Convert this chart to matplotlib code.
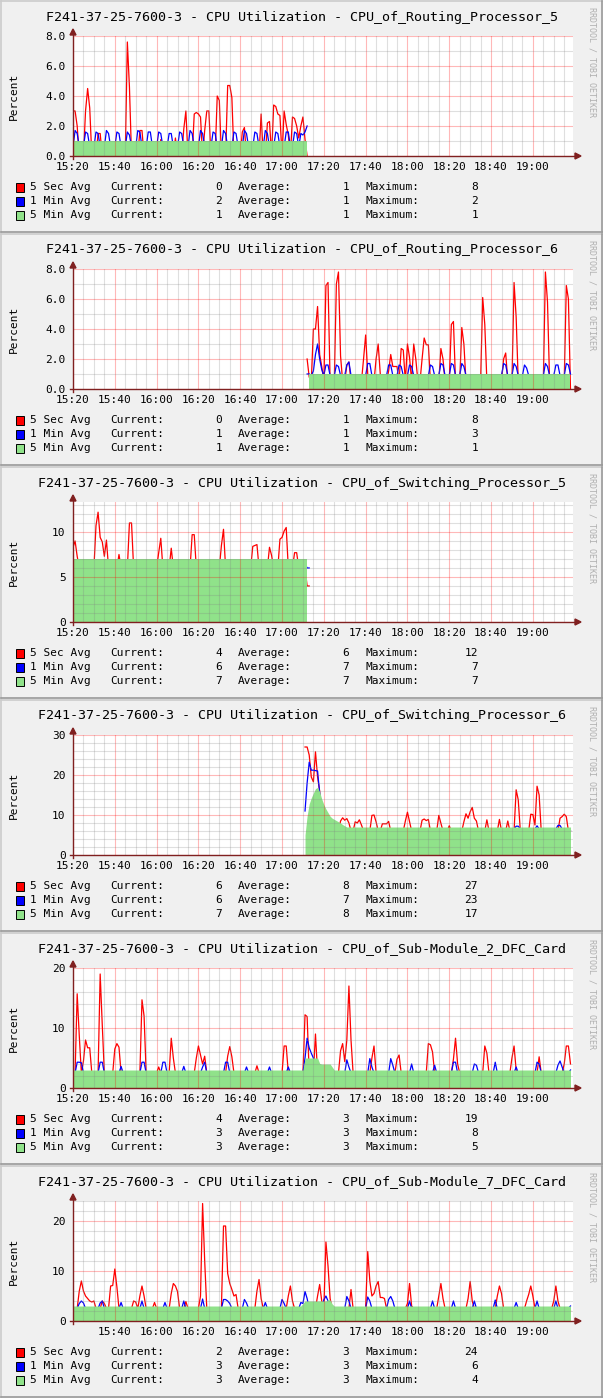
import numpy as np
import matplotlib
matplotlib.use('Agg')
import matplotlib.pyplot as plt
from matplotlib.patches import Rectangle, Polygon
from matplotlib.lines import Line2D

plt.rcParams['font.family'] = ['DejaVu Sans Mono']
plt.rcParams['font.size'] = 8

W, H = 603, 1398
PANEL_H = 233

host = 'F241-37-25-7600-3 - CPU Utilization - '
titles = ['CPU_of_Routing_Processor_5', 'CPU_of_Routing_Processor_6',
          'CPU_of_Switching_Processor_5', 'CPU_of_Switching_Processor_6',
          'CPU_of_Sub-Module_2_DFC_Card', 'CPU_of_Sub-Module_7_DFC_Card']
time_labels = ['15:20', '15:40', '16:00', '16:20', '16:40', '17:00',
               '17:20', '17:40', '18:00', '18:20', '18:40', '19:00']
series_names = ['5 Sec Avg', '1 Min Avg', '5 Min Avg']
series_colors = ['#FF0000', '#0000FF', '#90E28A']

y_max = [8.0, 8.0, 13.33, 30, 20, 24]
y_major = [2, 2, 5, 10, 10, 10]
y_minor = [1, 1, 1, 2, 2, 2]
y_fmt = ['%.1f', '%.1f', '%d', '%d', '%d', '%d']

# one sample per minute, minute 0 = 15:20
# spikes: (first minute, [values]) ; everything else sits at the base level

# --- Routing_Processor_5
rp5_line_span = (0, 112)
rp5_area_span = (0, 112)
rp5_bases = (0.0, 0.6, 1.0)
rp5_red = [(0, [3.0, 3.0, 2.0]), (6, [3.0, 4.5, 3.2]), (12, [1.5, 1.5]),
           (26, [7.6, 4.6]), (32, [1.7, 1.7]), (42, [1.1]), (49, [1.2]),
           (53, [1.8, 3.0]), (58, [2.8, 2.9, 2.8, 2.6]), (63, [1.7, 3.0, 3.0]),
           (69, [4.0, 3.7]), (74, [4.7, 4.7, 3.9]), (81, [1.6, 1.9]),
           (90, [2.8]), (93, [2.2, 2.3]), (96, [3.4, 3.3, 2.8, 2.7]),
           (101, [3.0, 2.1, 1.4]), (105, [2.6, 2.5, 2.0]), (108, [1.2]),
           (109, [2.0, 2.6]), (111, [1.1])]
rp5_blue = [(1, [1.7, 1.5]), (6, [1.6, 1.5]), (11, [1.6, 1.5]), (16, [1.7, 1.5]),
            (21, [1.6, 1.5]), (26, [1.6, 1.4]), (31, [1.7, 1.6]), (36, [1.6, 1.6]),
            (41, [1.6, 1.5]), (46, [1.5, 1.5]), (51, [1.6, 1.5]), (56, [1.7, 1.5]),
            (61, [1.7, 1.5]), (67, [1.6, 1.5]), (72, [1.7, 1.5]), (77, [1.6, 1.5]),
            (82, [1.7, 1.5]), (87, [1.6, 1.5]), (92, [1.7, 1.5]), (97, [1.6, 1.5]),
            (102, [1.6, 1.6]), (106, [1.6, 1.5]), (109, [1.5, 1.4, 1.6, 2.0])]
rp5_green = []
rp5_stats = [(0, 1, 8), (2, 1, 2), (1, 1, 1)]

# --- Routing_Processor_6
rp6_line_span = (112, 238)
rp6_area_span = (113, 238)
rp6_bases = (0.5, 0.9, 1.0)
rp6_red = [(112, [2.0, 0.8]), (115, [4.0, 4.0, 5.5, 2.3, 1.5]), (121, [6.9, 7.1]),
           (126, [7.0, 7.8, 2.2]), (131, [1.6, 1.8]), (139, [2.0, 3.6, 1.0]),
           (145, [2.0, 3.0, 1.0]), (151, [1.2, 2.3, 1.5, 1.5, 1.5]),
           (157, [2.7, 2.6]), (160, [3.0, 2.1]), (163, [3.0, 2.0]),
           (167, [2.0, 3.4, 2.95, 2.95]), (176, [2.7, 2.0]), (181, [4.3, 4.5]),
           (186, [4.1, 3.0]), (196, [6.1, 4.3]), (206, [2.0, 2.4]),
           (211, [7.1, 4.8]), (226, [7.8, 5.8]), (236, [6.9, 6.0]), (238, [0.0])]
rp6_blue = [(112, [1.0, 1.0]), (115, [1.2, 2.3, 3.0, 2.0, 1.3]), (121, [1.6, 1.6]),
            (126, [1.6, 1.5]), (131, [1.6, 1.8]), (141, [1.7, 1.7]), (151, [1.6, 1.6]),
            (156, [1.6, 1.5]), (161, [1.6, 1.5]), (171, [1.6, 1.5]), (176, [1.7, 1.6]),
            (181, [1.7, 1.6]), (186, [1.7, 1.5]), (206, [1.7, 1.6]), (211, [1.7, 1.5]),
            (216, [1.6, 1.4]), (226, [1.7, 1.5]), (231, [1.6, 1.6]), (236, [1.7, 1.6]),
            (238, [1.0])]
rp6_green = []
rp6_stats = [(0, 1, 8), (1, 1, 3), (1, 1, 1)]

# --- Switching_Processor_5
sp5_line_span = (0, 113)
sp5_area_span = (0, 112)
sp5_bases = (6.0, 6.5, 7.0)
sp5_red = [(0, [8.3, 9.0, 7.3]), (11, [10.7, 12.2, 9.4, 8.9, 7.3, 9.1]), (22, [7.5]),
           (27, [11.0, 11.0]), (41, [7.7, 9.3]), (47, [8.2]), (57, [9.7, 9.7]),
           (71, [8.5, 10.3]), (86, [8.4, 8.5, 8.6]), (94, [8.3, 7.4]),
           (99, [9.2, 9.4, 10.1, 10.5]), (106, [7.7, 7.7]), (112, [4.0, 4.0])]
sp5_blue = [(112, [6.0, 6.0])]
sp5_green = []
sp5_stats = [(4, 6, 12), (6, 7, 7), (7, 7, 7)]

# --- Switching_Processor_6
sp6_line_span = (111, 238)
sp6_area_span = (111, 238)
sp6_bases = (6.0, 6.5, 7.0)
sp6_red = [(111, [27.0, 27.0, 25.0, 19.5, 18.3, 25.8, 19.5, 16.0]),
           (128, [8.5, 9.3, 8.7, 9.1, 8.0]), (135, [8.3, 8.0, 8.8, 7.5]),
           (143, [9.9, 10.0, 8.3]), (148, [7.8, 7.8, 7.8, 8.4]), (159, [8.5, 10.7, 8.4]),
           (167, [8.7, 9.0, 8.6, 8.9]), (175, [9.9, 8.0]), (180, [7.3]),
           (187, [8.3, 10.3, 9.2, 10.8, 11.9, 9.2, 8.5]), (198, [8.8]), (204, [8.9]),
           (208, [8.5]), (212, [16.3, 13.8]), (219, [10.2, 10.1, 7.5, 17.2, 15.0]),
           (233, [9.2, 9.6, 10.2, 9.6]), (238, [6.0])]
sp6_blue = [(111, [11.0, 18.0, 23.2, 21.2, 21.2, 21.1, 21.0, 15.5, 12.0]),
            (212, [7.2, 7.2]), (222, [7.3]), (232, [7.4, 7.4]), (238, [6.0])]
sp6_green = [(111, [5.0, 9.8, 12.8, 14.3, 15.5, 16.6, 16.9, 15.8, 14.0, 12.6, 11.5,
                    10.6, 9.7, 9.2, 8.9, 8.6, 8.3, 8.0, 7.6, 7.3])]
sp6_stats = [(6, 8, 27), (6, 7, 23), (7, 8, 17)]

# --- Sub-Module_2_DFC_Card
sm2_line_span = (0, 238)
sm2_area_span = (0, 238)
sm2_bases = (2.5, 2.5, 3.0)
sm2_red = [(2, [15.7, 8.7]), (5, [4.5, 8.0, 6.7, 6.7]), (13, [19.0, 10.5]),
           (20, [6.5, 7.4, 6.8]), (33, [14.7, 12.0]), (41, [3.5]), (47, [8.3, 5.0]),
           (59, [5.0, 7.0, 5.5, 4.0, 5.3]), (74, [5.3, 6.9, 5.2]), (88, [3.7]),
           (101, [7.0, 7.0]), (111, [12.2, 11.9]), (116, [9.0]),
           (128, [6.2, 7.4, 4.4, 8.0, 17.0, 8.0]), (143, [5.0, 7.0]), (155, [4.8, 5.5]),
           (170, [7.4, 7.2, 6.0]), (182, [4.8, 8.3, 4.0]), (197, [7.0, 5.8]),
           (210, [5.0, 7.0, 3.0]), (223, [5.2]), (235, [4.0, 7.0, 7.0, 4.0])]
sm2_blue = [(2, [4.3, 4.3, 4.2]), (13, [4.3, 4.3]), (23, [3.6]), (33, [4.3, 4.3]),
            (43, [4.3, 4.3]), (53, [3.6]), (62, [3.5, 4.3]), (73, [4.3, 4.3]),
            (83, [3.5]), (94, [3.5]), (103, [3.5]), (111, [5.0, 8.3, 6.7, 5.8, 5.0]),
            (131, [4.7, 3.5]), (142, [4.9, 3.5]), (152, [4.9, 3.8]), (162, [4.0]),
            (173, [3.8]), (182, [4.3, 4.3]), (192, [4.0, 3.8]), (202, [4.3]),
            (212, [3.5]), (222, [4.3, 4.0]), (232, [3.8, 4.5, 3.5]), (238, [3.0])]
sm2_green = [(111, [5.0, 5.0, 5.0, 5.0, 5.0, 5.0, 5.0, 4.1, 4.0, 4.0, 4.0, 4.0, 4.0, 3.5])]
sm2_stats = [(4, 3, 19), (3, 3, 8), (3, 3, 5)]

# --- Sub-Module_7_DFC_Card
sm7_line_span = (0, 238)
sm7_area_span = (0, 238)
sm7_bases = (2.5, 2.5, 3.0)
sm7_red = [(3, [6.0, 8.0, 6.0, 5.0, 4.5, 4.0, 3.8, 4.0]), (14, [4.0, 3.5]),
           (18, [7.0, 7.1, 10.4, 6.8]), (29, [4.0, 3.8]), (32, [5.0, 7.0, 5.0]),
           (39, [3.7]), (47, [5.5, 7.5, 7.0, 5.9]), (54, [3.9]), (61, [5.0, 23.5, 12.0]),
           (72, [19.0, 19.0, 9.5, 7.5, 6.3, 5.0, 5.3]), (88, [6.0, 8.3, 4.5]),
           (103, [5.0, 7.0, 4.0]), (117, [5.0, 7.3, 4.0]), (121, [15.8, 11.0, 4.5]),
           (133, [6.3]), (141, [13.9, 8.0, 5.0, 5.5, 7.0, 7.9, 4.7, 4.7, 4.5]),
           (160, [3.5, 7.5, 3.0]), (175, [5.0, 7.5, 4.5]), (189, [4.5, 7.9, 4.0]),
           (203, [5.0, 7.0, 5.5]), (217, [4.0, 5.3, 7.0, 5.0]), (230, [4.0, 7.0, 4.0]),
           (238, [2.0])]
sm7_blue = [(3, [3.5, 4.0, 3.6]), (13, [3.6, 4.0]), (23, [3.7]), (33, [4.0]), (44, [3.7]),
            (53, [4.0]), (62, [4.4]), (72, [4.3, 4.3, 4.0, 3.5]), (82, [4.3, 3.6]),
            (92, [3.7]), (100, [4.3, 3.5]), (109, [3.7, 3.5, 5.9, 4.5]),
            (120, [4.2, 5.0, 4.0]), (131, [4.9, 4.0]), (141, [4.8, 4.0]),
            (151, [4.3, 4.9, 4.0]), (161, [4.0]), (172, [4.0]), (182, [4.0]), (192, [4.0]),
            (202, [4.2]), (212, [3.7]), (222, [4.0]), (231, [4.0]), (238, [3.0])]
sm7_green = [(110, [3.5, 4.0, 4.0, 4.0, 4.0, 4.0, 4.0, 4.0, 4.0, 4.0, 4.0, 4.0, 4.3, 4.2, 3.4])]
sm7_stats = [(2, 3, 24), (3, 3, 6), (3, 3, 4)]

panels = [
    (rp5_line_span, rp5_area_span, rp5_bases, rp5_red, rp5_blue, rp5_green, rp5_stats),
    (rp6_line_span, rp6_area_span, rp6_bases, rp6_red, rp6_blue, rp6_green, rp6_stats),
    (sp5_line_span, sp5_area_span, sp5_bases, sp5_red, sp5_blue, sp5_green, sp5_stats),
    (sp6_line_span, sp6_area_span, sp6_bases, sp6_red, sp6_blue, sp6_green, sp6_stats),
    (sm2_line_span, sm2_area_span, sm2_bases, sm2_red, sm2_blue, sm2_green, sm2_stats),
    (sm7_line_span, sm7_area_span, sm7_bases, sm7_red, sm7_blue, sm7_green, sm7_stats),
]


def series(span, base, spikes):
    t = np.arange(span[0], span[1] + 1)
    v = np.full(t.size, float(base))
    for start, vals in spikes:
        i = start - span[0]
        v[i:i + len(vals)] = vals
    return t, v


def fx(x):
    return x / W


def fy(y):
    return 1 - y / H


AXIS_COL = '#802020'

fig = plt.figure(figsize=(W / 100, H / 100), dpi=100)
fig.patch.set_facecolor('white')

for i, (lspan, aspan, bases, red, blue, green, stats) in enumerate(panels):
    T = i * PANEL_H

    # panel frame
    fig.add_artist(Rectangle((0, fy(T + PANEL_H)), 1, PANEL_H / H, transform=fig.transFigure,
                             facecolor='#F0F0F0', edgecolor='none', zorder=-5))
    fig.add_artist(Line2D([fx(0.5), fx(0.5)], [fy(T + 0.5), fy(T + 232)], color='#CBCBCB', lw=1.2))
    fig.add_artist(Line2D([fx(0.5), fx(602.5)], [fy(T + 0.8), fy(T + 0.8)], color='#CBCBCB', lw=1.2))
    fig.add_artist(Line2D([fx(602.3), fx(602.3)], [fy(T + 0.5), fy(T + 232)], color='#999999', lw=1.2))
    fig.add_artist(Line2D([fx(0.5), fx(602.5)], [fy(T + 231.8), fy(T + 231.8)], color='#999999', lw=1.2))

    fig.text(fx(301.5), fy(T + 17), host + titles[i], ha='center', va='center', fontsize=9.6)
    fig.text(fx(14), fy(T + 96), 'Percent', rotation=90, ha='center', va='center', fontsize=8)
    fig.text(fx(592), fy(T + 62), 'RRDTOOL / TOBI OETIKER', rotation=270, ha='center',
             va='center', fontsize=6, color='#B0B0B0')

    ax = fig.add_axes([fx(73), fy(T + 156), 500 / W, 120 / H])
    ax.set_facecolor('white')
    ax.set_xlim(0, 239.2)
    ax.set_ylim(0, y_max[i])

    t, r = series(lspan, bases[0], red)
    ax.plot(t, r, color=series_colors[0], lw=0.9, zorder=1.0)
    t, b = series(lspan, bases[1], blue)
    ax.plot(t, b, color=series_colors[1], lw=0.9, zorder=1.1)
    t, g = series(aspan, bases[2], green)
    ax.fill_between(t, 0, g, color=series_colors[2], lw=0, zorder=1.5)

    first = 1 if i == 5 else 0
    ax.set_xticks(np.arange(0, 221, 20)[first:])
    ax.set_xticklabels(time_labels[first:])
    ax.set_xticks(np.arange(0, 240, 5), minor=True)
    yt = np.arange(0, y_max[i] + 0.01, y_major[i])
    ax.set_yticks(yt)
    ax.set_yticklabels([y_fmt[i] % v for v in yt])
    ax.set_yticks(np.arange(0, y_max[i] + 0.01, y_minor[i]), minor=True)
    ax.tick_params(which='both', length=0)
    ax.tick_params(axis='x', pad=4, labelsize=8)
    ax.tick_params(axis='y', pad=5.4, labelsize=8)
    ax.set_axisbelow(False)
    ax.grid(which='major', color='#FF0000', alpha=0.28, lw=0.8)
    ax.grid(which='minor', color='#808080', alpha=0.25, lw=0.8)
    for s in ax.spines.values():
        s.set_visible(False)

    # axes with arrows
    fig.add_artist(Line2D([fx(70), fx(577)], [fy(T + 156), fy(T + 156)], color=AXIS_COL, lw=1.0, zorder=5))
    fig.add_artist(Line2D([fx(73), fx(73)], [fy(T + 159), fy(T + 33)], color=AXIS_COL, lw=1.0, zorder=5))
    fig.add_artist(Polygon([[fx(581), fy(T + 156)], [fx(575), fy(T + 153)], [fx(575), fy(T + 159)]],
                           closed=True, transform=fig.transFigure, color=AXIS_COL, zorder=5))
    fig.add_artist(Polygon([[fx(73), fy(T + 29)], [fx(70), fy(T + 35)], [fx(76), fy(T + 35)]],
                           closed=True, transform=fig.transFigure, color=AXIS_COL, zorder=5))

    # legend
    for k in range(3):
        yy = T + 187.3 + 14 * k
        fig.add_artist(Rectangle((fx(16), fy(yy + 4.3)), 8.4 / W, 8.4 / H, transform=fig.transFigure,
                                 facecolor=series_colors[k], edgecolor='black', lw=0.7, zorder=4))
        cur, avg, mx = stats[k]
        fig.text(fx(30), fy(yy), series_names[k], ha='left', va='center', fontsize=8)
        fig.text(fx(110), fy(yy), 'Current:', ha='left', va='center', fontsize=8)
        fig.text(fx(222), fy(yy), str(cur), ha='right', va='center', fontsize=8)
        fig.text(fx(238), fy(yy), 'Average:', ha='left', va='center', fontsize=8)
        fig.text(fx(349), fy(yy), str(avg), ha='right', va='center', fontsize=8)
        fig.text(fx(365), fy(yy), 'Maximum:', ha='left', va='center', fontsize=8)
        fig.text(fx(478), fy(yy), str(mx), ha='right', va='center', fontsize=8)

fig.savefig('out.png', dpi=100)
